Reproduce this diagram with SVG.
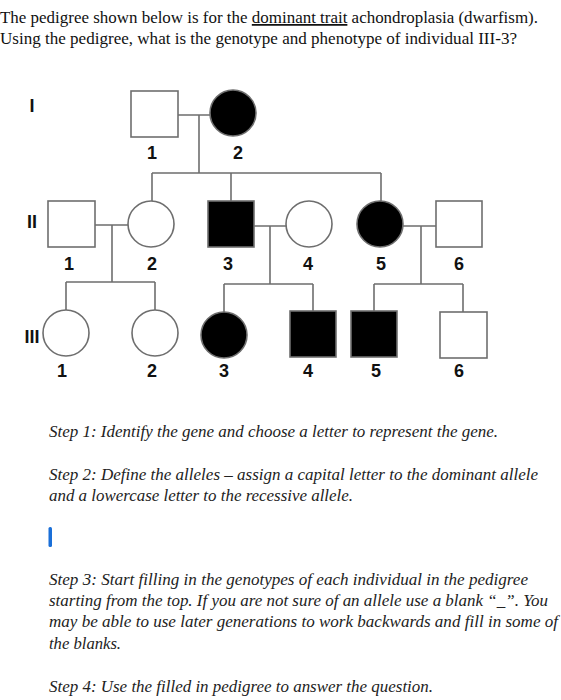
<svg xmlns="http://www.w3.org/2000/svg" width="561" height="700" viewBox="0 0 561 700">
<style>
.hd{font-family:"Liberation Serif","Times New Roman",serif;font-size:17.5px;fill:#111}
.st{font-family:"Liberation Serif","Times New Roman",serif;font-size:17.2px;font-style:italic;fill:#222}
.lb{font-family:"Liberation Sans",Arial,sans-serif;font-size:18px;font-weight:bold;fill:#111;text-anchor:middle}
.o{fill:#fff;stroke:#6e6e6e;stroke-width:1.6}
.f{fill:#000;stroke:#6e6e6e;stroke-width:1.6}
.ln{fill:none;stroke:#6e6e6e;stroke-width:1.6}
</style>
<rect width="561" height="700" fill="#fff"/>
<g id="header">
<text class="hd" x="0" y="23" textLength="538" lengthAdjust="spacingAndGlyphs">The pedigree shown below is for the <tspan text-decoration="underline">dominant trait</tspan> achondroplasia (dwarfism).</text>
<text class="hd" x="0" y="43.5" textLength="517" lengthAdjust="spacingAndGlyphs">Using the pedigree, what is the genotype and phenotype of individual III-3?</text>
</g>
<g id="generation-labels">
<text class="lb" x="32" y="112">I</text>
<text class="lb" x="32" y="228">II</text>
<text class="lb" x="32" y="343">III</text>
</g>
<g id="connectors">
<path class="ln" d="M178 115H210M199 115V173M152 173H381M152 173V201M231 173V201M381 173V201"/>
<path class="ln" d="M95 225H128M112 225V282M66 282H155M66 282V310M155 282V310"/>
<path class="ln" d="M254 226H286M270 226V284M224 284H313M224 284V312M313 284V311"/>
<path class="ln" d="M403 226H436M421 226V284M374 284H463M374 284V311M463 284V312"/>
</g>
<g id="I-1"><rect class="o" x="131" y="91" width="47" height="46"/><text class="lb" x="152" y="159">1</text></g>
<g id="I-2"><circle class="f" cx="233" cy="113" r="23"/><text class="lb" x="238" y="159">2</text></g>
<g id="II-1"><rect class="o" x="48" y="201" width="47" height="46"/><text class="lb" x="69" y="270">1</text></g>
<g id="II-2"><circle class="o" cx="151" cy="224" r="23"/><text class="lb" x="152" y="270">2</text></g>
<g id="II-3"><rect class="f" x="208" y="201" width="46" height="46"/><text class="lb" x="228" y="270">3</text></g>
<g id="II-4"><circle class="o" cx="309" cy="224" r="23"/><text class="lb" x="308" y="270">4</text></g>
<g id="II-5"><circle class="f" cx="380" cy="224" r="23"/><text class="lb" x="381" y="270">5</text></g>
<g id="II-6"><rect class="o" x="436" y="201" width="46" height="46"/><text class="lb" x="459" y="270">6</text></g>
<g id="III-1"><circle class="o" cx="66" cy="333" r="23"/><text class="lb" x="62" y="377">1</text></g>
<g id="III-2"><circle class="o" cx="155" cy="333" r="23"/><text class="lb" x="152" y="377">2</text></g>
<g id="III-3"><circle class="f" cx="224" cy="335" r="23"/><text class="lb" x="224" y="377">3</text></g>
<g id="III-4"><rect class="f" x="290" y="311" width="46" height="46"/><text class="lb" x="308" y="377">4</text></g>
<g id="III-5"><rect class="f" x="351" y="311" width="46" height="46"/><text class="lb" x="376" y="377">5</text></g>
<g id="III-6"><rect class="o" x="440" y="312" width="47" height="46"/><text class="lb" x="459" y="377">6</text></g>
<g id="steps">
<text class="st" x="49" y="437" textLength="449" lengthAdjust="spacingAndGlyphs">Step 1: Identify the gene and choose a letter to represent the gene.</text>
<text class="st" x="49" y="479.5" textLength="489" lengthAdjust="spacingAndGlyphs">Step 2: Define the alleles – assign a capital letter to the dominant allele</text>
<text class="st" x="49" y="500.5" textLength="304" lengthAdjust="spacingAndGlyphs">and a lowercase letter to the recessive allele.</text>
<rect x="48.5" y="527" width="3.5" height="20" rx="1.5" fill="#1a6fd8"/>
<text class="st" x="49" y="585" textLength="479" lengthAdjust="spacingAndGlyphs">Step 3: Start filling in the genotypes of each individual in the pedigree</text>
<text class="st" x="49" y="606" textLength="499" lengthAdjust="spacingAndGlyphs">starting from the top. If you are not sure of an allele use a blank “_”. You</text>
<text class="st" x="49" y="627" textLength="509" lengthAdjust="spacingAndGlyphs">may be able to use later generations to work backwards and fill in some of</text>
<text class="st" x="49" y="648.5" textLength="72" lengthAdjust="spacingAndGlyphs">the blanks.</text>
<text class="st" x="49" y="692" textLength="384" lengthAdjust="spacingAndGlyphs">Step 4: Use the filled in pedigree to answer the question.</text>
</g>
</svg>
